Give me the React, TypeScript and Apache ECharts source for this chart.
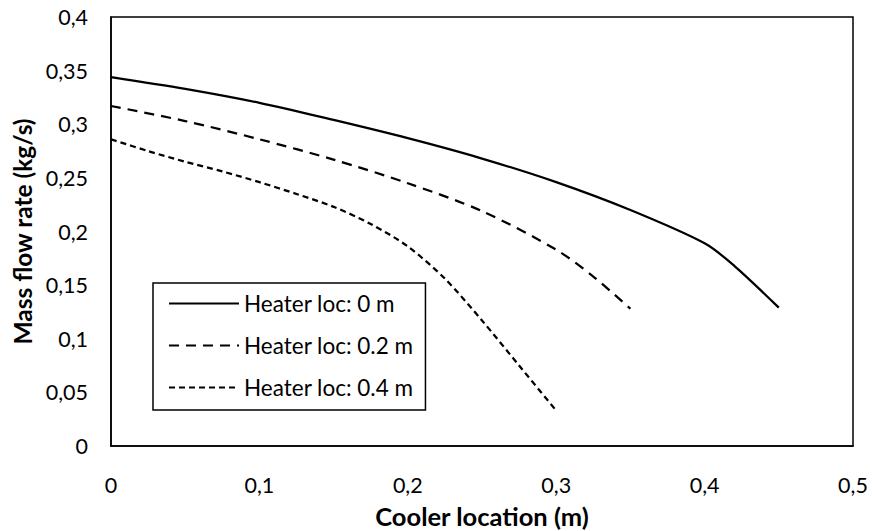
import React, { useEffect, useRef } from "react";
import * as echarts from "echarts";

const xHeater0 = [0, 0.05, 0.1, 0.15, 0.2, 0.25, 0.3, 0.35, 0.4, 0.42, 0.45];
const yHeater0 = [0.344, 0.333, 0.32, 0.304, 0.287, 0.268, 0.246, 0.22, 0.189, 0.168, 0.129];

const xHeater02 = [0, 0.05, 0.1, 0.15, 0.2, 0.25, 0.3, 0.325, 0.35];
const yHeater02 = [0.317, 0.303, 0.286, 0.267, 0.245, 0.219, 0.183, 0.158, 0.128];

const xHeater04 = [0, 0.025, 0.05, 0.075, 0.1, 0.125, 0.15, 0.175, 0.2, 0.225, 0.25, 0.275, 0.3];
const yHeater04 = [0.286, 0.275, 0.265, 0.256, 0.246, 0.235, 0.223, 0.207, 0.186, 0.156, 0.117, 0.075, 0.033];

const seriesNames = ["Heater loc: 0 m", "Heater loc: 0.2 m", "Heater loc: 0.4 m"];
const xTitle = "Cooler location (m)";
const yTitle = "Mass flow rate (kg/s)";

const FONT = "Lato";

const pairs = (xs: number[], ys: number[]) => xs.map((x, i) => [x, ys[i]]);
const fmt = (v: number) => String(Math.round(v * 1000) / 1000).replace(".", ",");

export default function App() {
  const ref = useRef<HTMLDivElement>(null);
  useEffect(() => {
    if (!ref.current) return;
    const chart = echarts.init(ref.current, null, { renderer: "svg" });
    const lineSeries = (name: string, data: number[][], type: any) => ({
      name,
      type: "line",
      data,
      smooth: 0.3,
      showSymbol: false,
      symbol: "none",
      lineStyle: { color: "#000", width: 2.25, type },
      itemStyle: { color: "#000" },
    });
    chart.setOption({
      animation: false,
      backgroundColor: "#fff",
      textStyle: { fontFamily: FONT },
      grid: {
        left: 111,
        right: 19,
        top: 17,
        bottom: 85,
        show: true,
        borderColor: "#000",
        borderWidth: 1.5,
        containLabel: false,
        outerBoundsMode: "none",
      },
      xAxis: {
        type: "value",
        min: 0,
        max: 0.5,
        interval: 0.1,
        name: xTitle,
        nameLocation: "middle",
        nameGap: 57,
        nameTextStyle: { fontFamily: FONT, fontSize: 25.5, fontWeight: "bold", color: "#000" },
        axisLine: { show: true, lineStyle: { color: "#000", width: 1.5 } },
        axisTick: { show: false },
        splitLine: { show: false },
        axisLabel: { color: "#000", fontSize: 21.5, fontFamily: FONT, margin: 28, formatter: fmt },
      },
      yAxis: {
        type: "value",
        min: 0,
        max: 0.4,
        interval: 0.05,
        name: yTitle,
        nameLocation: "middle",
        nameGap: 74,
        nameTextStyle: { fontFamily: FONT, fontSize: 24.5, fontWeight: "bold", color: "#000" },
        axisLine: { show: true, lineStyle: { color: "#000", width: 1.5 } },
        axisTick: { show: false },
        splitLine: { show: false },
        axisLabel: { color: "#000", fontSize: 21.5, fontFamily: FONT, margin: 23, formatter: fmt },
      },
      legend: {
        data: seriesNames,
        orient: "vertical",
        left: 153,
        top: 283,
        itemWidth: 70,
        itemHeight: 20,
        itemGap: 19,
        padding: [9, 12, 11, 15],
        borderColor: "#000",
        borderWidth: 1.5,
        backgroundColor: "#fff",
        itemStyle: { color: "rgba(0,0,0,0)", borderWidth: 0 },
        textStyle: { fontFamily: FONT, fontSize: 22.5, color: "#000", padding: [0, 0, 0, 0] },
      },
      series: [
        lineSeries(seriesNames[0], pairs(xHeater0, yHeater0), "solid"),
        lineSeries(seriesNames[1], pairs(xHeater02, yHeater02), [10, 7]),
        lineSeries(seriesNames[2], pairs(xHeater04, yHeater04), [6, 4]),
      ],
    });
    return () => chart.dispose();
  }, []);
  return <div ref={ref} style={{ position: "fixed", left: 0, top: 0, width: 872, height: 531 }} />;
}
